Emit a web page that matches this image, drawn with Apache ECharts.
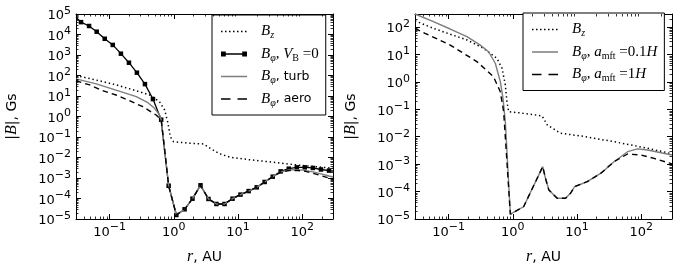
<!DOCTYPE html>
<html><head><meta charset="utf-8">
<script src="https://cdn.jsdelivr.net/npm/echarts@6/dist/echarts.min.js"></script>
<style>html,body{margin:0;padding:0;background:#fff}#c{width:681px;height:276px}</style>
</head><body><div id="c"></div>
<script>
// ---------- DATA ----------
// Left panel
const rBzL  = [0.03, 0.062, 0.126, 0.26, 0.42, 0.6, 0.72, 0.81, 0.88, 0.99, 1.8, 2.9, 3.3, 4.1, 5.0, 7.6, 16, 29, 84, 300];
const bBzL  = [100, 60, 35, 18, 11.2, 5.2, 2.07, 0.47, 0.104, 0.059, 0.049, 0.046, 0.035, 0.023, 0.0158, 0.0102, 0.0076, 0.0063, 0.0043, 0.0030];

const rVB0  = [0.03, 0.0359, 0.0479, 0.063, 0.084, 0.112, 0.15, 0.2, 0.266, 0.355, 0.473, 0.635, 0.83, 1.095, 1.47, 1.95, 2.6, 3.46, 4.6, 6.15, 8.2, 10.9, 14.6, 19.5, 25.9, 34.6, 46, 61.5, 82, 109, 146, 195, 260, 300];
const bVB0  = [70000, 40000, 26000, 13700, 6200, 3100, 1160, 421, 137, 38, 7.1, 0.7, 4.2e-4, 1.57e-5, 2.97e-5, 9.8e-5, 4.4e-4, 9.5e-5, 5.4e-5, 5.4e-5, 9.8e-5, 1.55e-4, 2.3e-4, 3.5e-4, 6.4e-4, 1.16e-3, 2.1e-3, 2.85e-3, 3.3e-3, 3.3e-3, 3.1e-3, 2.6e-3, 2.3e-3, 2.2e-3];

const rTurb = [0.03, 0.062, 0.126, 0.26, 0.395, 0.5, 0.6, 0.635, 0.83, 1.095, 1.47, 1.95, 2.6, 3.46, 4.6, 6.15, 8.2, 10.9, 14.6, 19.5, 25.9, 34.6, 46, 61.5, 82, 109, 146, 195, 260, 300];
const bTurb = [68, 39, 19.5, 9.3, 4.7, 2.5, 1.18, 0.7, 4.2e-4, 1.57e-5, 2.97e-5, 9.8e-5, 4.4e-4, 9.5e-5, 5.4e-5, 5.4e-5, 9.8e-5, 1.55e-4, 2.3e-4, 3.5e-4, 6.4e-4, 1.16e-3, 2.0e-3, 2.45e-3, 2.55e-3, 2.35e-3, 2.0e-3, 1.6e-3, 1.25e-3, 1.12e-3];

const rAero = [0.03, 0.049, 0.078, 0.126, 0.204, 0.33, 0.53, 0.635, 0.83, 1.095, 1.47, 1.95, 2.6, 3.46, 4.6, 6.15, 8.2, 10.9, 14.6, 19.5, 25.9, 34.6, 46, 61.5, 82, 109, 146, 195, 260, 300];
const bAero = [55, 34.7, 18.2, 11.2, 5.9, 3.0, 1.18, 0.7, 4.2e-4, 1.57e-5, 2.97e-5, 9.8e-5, 4.4e-4, 9.5e-5, 5.4e-5, 5.4e-5, 9.8e-5, 1.55e-4, 2.3e-4, 3.5e-4, 6.4e-4, 1.16e-3, 1.95e-3, 2.3e-3, 2.35e-3, 2.15e-3, 1.7e-3, 1.3e-3, 1.0e-3, 0.87e-3];

// Right panel
const rBzR  = [0.03, 0.058, 0.106, 0.193, 0.35, 0.566, 0.68, 0.764, 0.81, 0.86, 1.3, 2.0, 2.86, 3.43, 5.5, 11.4, 37.7, 125, 300];
const bBzR  = [170, 90, 55, 34, 16.8, 7.2, 3.1, 0.77, 0.19, 0.082, 0.074, 0.065, 0.057, 0.027, 0.0134, 0.0107, 0.0066, 0.0038, 0.0024];

const rA01  = [0.03, 0.058, 0.106, 0.193, 0.311, 0.419, 0.533, 0.638, 0.703, 0.764, 0.914, 1.47, 2.92, 3.22, 3.63, 4.9, 6.6, 7.9, 9.1, 14.4, 23.5, 37.6, 61, 87, 125, 300];
const bA01  = [300, 157, 85, 45, 22, 12.6, 4.8, 1.02, 0.25, 0.035, 1.5e-5, 2.8e-5, 8.1e-4, 3.05e-4, 1.15e-4, 5.7e-5, 5.7e-5, 8.7e-5, 1.5e-4, 2.3e-4, 4.7e-4, 1.23e-3, 2.85e-3, 3.6e-3, 3.3e-3, 2.15e-3];

const rA1   = [0.03, 0.043, 0.106, 0.276, 0.5, 0.638, 0.72, 0.914, 1.47, 2.92, 3.22, 3.63, 4.9, 6.6, 7.9, 9.1, 14.4, 23.5, 37.6, 61, 100, 158, 300];
const bA1   = [90, 59, 22, 5.5, 1.55, 0.44, 0.081, 1.5e-5, 2.8e-5, 8.1e-4, 3.05e-4, 1.15e-4, 5.7e-5, 5.7e-5, 8.7e-5, 1.5e-4, 2.3e-4, 4.7e-4, 1.23e-3, 2.35e-3, 2.15e-3, 1.62e-3, 1.02e-3];

// Axis ranges
const xRange  = [0.03, 300];
const yRangeL = [1e-5, 1e5];
const yRangeR = [1e-5, 300];

// Legend labels (rich text)
const legendLeft = {
  'Bz L':   '{I|B}{si|z}',
  'VB0 L':  '{I|B}{si|φ}{r|, }{i|V}{sr|B}{r| =0}',
  'turb L': '{I|B}{si|φ}{t|, turb}',
  'aero L': '{I|B}{si|φ}{t|, aero}'
};
const legendRight = {
  'Bz R':  '{I|B}{si|z}',
  'a01 R': '{I|B}{si|φ}{r|, }{i|a}{sr|mft}{r| =0.1}{i|H}',
  'a1 R':  '{I|B}{si|φ}{r|, }{i|a}{sr|mft}{r| =1}{i|H}'
};

// ---------- CHART ----------
const zip = (r, b) => r.map((x, i) => [x, b[i]]);
const SERIF = 'Liberation Serif', SANS = 'DejaVu Sans';
const GREY = '#7d7d7d';

const tickRich = {
  b: {fontFamily: SANS, fontSize: 13, color: '#000', verticalAlign: 'bottom', lineHeight: 17},
  s: {fontFamily: SANS, fontSize: 11, color: '#000', verticalAlign: 'top', lineHeight: 17}
};
function sup(v) {
  const l = Math.log10(v), e = Math.round(l);
  if (Math.abs(l - e) > 1e-6) return '';
  return '{b|10}{s|' + (e < 0 ? '\u2212' + (-e) : e) + '}';
}
const nameRich = {
  i: {fontFamily: SERIF, fontStyle: 'italic', fontSize: 16, color: '#000'},
  t: {fontFamily: SANS, fontSize: 14, color: '#000'}
};
const legRich = {
  I:  {fontFamily: SERIF, fontStyle: 'italic', fontSize: 15, lineHeight: 18, padding: [0, 0, 0, 9], color: '#000'},
  i:  {fontFamily: SERIF, fontStyle: 'italic', fontSize: 15, lineHeight: 18, color: '#000'},
  si: {fontFamily: SERIF, fontStyle: 'italic', fontSize: 10, lineHeight: 18, verticalAlign: 'bottom', color: '#000'},
  sr: {fontFamily: SERIF, fontSize: 10, lineHeight: 18, verticalAlign: 'bottom', color: '#000'},
  r:  {fontFamily: SERIF, fontSize: 15, lineHeight: 18, color: '#000'},
  t:  {fontFamily: SANS, fontSize: 12.5, lineHeight: 18, color: '#000'}
};

function xAx(g, pos, withLabel) {
  return {
    type: 'log', logBase: 10, gridIndex: g, position: pos, min: xRange[0], max: xRange[1], splitNumber: 5,
    axisLine: {show: true, onZero: false, lineStyle: {color: '#000', width: 1}},
    axisTick: {show: true, inside: true, length: 5, lineStyle: {color: '#000', width: 1}},
    minorTick: {show: false}, splitLine: {show: false},
    axisLabel: {show: withLabel, interval: 0, margin: 3, formatter: sup, rich: tickRich},
    name: withLabel ? '{i|r}{t|, AU}' : '', nameLocation: 'middle', nameGap: 30,
    nameTextStyle: {rich: nameRich}
  };
}
function yAx(g, pos, withLabel, range) {
  return {
    type: 'log', logBase: 10, gridIndex: g, position: pos, min: range[0], max: range[1], interval: 1,
    axisLine: {show: true, onZero: false, lineStyle: {color: '#000', width: 1}},
    axisTick: {show: true, inside: true, length: 5, lineStyle: {color: '#000', width: 1}},
    minorTick: {show: false}, splitLine: {show: false},
    axisLabel: {show: withLabel, interval: 0, margin: 5, formatter: sup, rich: tickRich},
    name: withLabel ? '{t||}{i|B}{t||, Gs}' : '', nameLocation: 'middle', nameGap: 56, nameRotate: 90,
    nameTextStyle: {rich: nameRich}
  };
}

function minorVals(lo, hi) {
  const out = [];
  for (let e = Math.floor(Math.log10(lo)); e <= Math.ceil(Math.log10(hi)); e++) {
    for (let m = 2; m <= 9; m++) {
      const v = m * Math.pow(10, e);
      if (v > lo * 1.0001 && v < hi * 0.9999) out.push(v);
    }
  }
  return out;
}
function minorTicks(xi, yi, yr) {
  const xs = minorVals(xRange[0], xRange[1]), ys = minorVals(yr[0], yr[1]);
  return {
    type: 'custom', xAxisIndex: xi, yAxisIndex: yi, silent: true, clip: false, z: 5,
    data: [[1, 1]],
    renderItem: function (params, api) {
      const cs = params.coordSys, L = 2.5, ch = [];
      const st = {stroke: '#000', lineWidth: 0.8};
      xs.forEach(v => {
        const px = Math.round(api.coord([v, yr[0]])[0]) + 0.5;
        ch.push({type: 'line', shape: {x1: px, y1: cs.y + cs.height, x2: px, y2: cs.y + cs.height - L}, style: st});
        ch.push({type: 'line', shape: {x1: px, y1: cs.y, x2: px, y2: cs.y + L}, style: st});
      });
      ys.forEach(v => {
        const py = Math.round(api.coord([xRange[0], v])[1]) + 0.5;
        ch.push({type: 'line', shape: {x1: cs.x, y1: py, x2: cs.x + L, y2: py}, style: st});
        ch.push({type: 'line', shape: {x1: cs.x + cs.width, y1: py, x2: cs.x + cs.width - L, y2: py}, style: st});
      });
      return {type: 'group', children: ch};
    }
  };
}

function lineSeries(name, xi, yi, data, color, width, type, z) {
  return {
    name, type: 'line', xAxisIndex: xi, yAxisIndex: yi, data, symbol: 'none', z,
    lineStyle: {color, width, type}, itemStyle: {color}, silent: true, animation: false
  };
}

const dotIcon = 'path://M0,0h0.01v0.01h-0.01Z M25.99,11.99h0.01v0.01h-0.01Z ' +
  [0, 4, 8, 12, 16, 20, 24].map(x => 'M' + x + ',5.3h1.5v1.5h-1.5Z').join(' ');
const solidIcon = 'path://M0,0h0.01v0.01h-0.01Z M25.99,11.99h0.01v0.01h-0.01Z M0,5.35h26v1.3h-26Z';
const dashIcon = 'path://M0,0h0.01v0.01h-0.01Z M25.99,11.99h0.01v0.01h-0.01Z M0,5.3h9.5v1.5h-9.5Z M16.5,5.3h9.5v1.5h-9.5Z';
const markIcon = 'path://M0,0h0.01v0.01h-0.01Z M25.99,11.99h0.01v0.01h-0.01Z M0,3.6h4.8v4.8h-4.8Z M21.2,3.6h4.8v4.8h-4.8Z M4,5.35h18v1.3h-18Z';

const vb0Data = rVB0.map((x, i) => {
  const it = {value: [x, bVB0[i]]};
  if (i === 0 || i === rVB0.length - 1) it.symbol = 'none';
  return it;
});

function legendCfg(left, top, map, icons) {
  return {
    left, top, orient: 'vertical', itemWidth: 26, itemHeight: 12, itemGap: 6,
    padding: [9, 7, 7, 9], borderColor: '#000', borderWidth: 1, borderRadius: 0,
    backgroundColor: '#fff', selectedMode: false,
    itemStyle: {borderWidth: 0},
    data: Object.keys(map).map((k, i) => ({name: k, icon: icons[i]})),
    formatter: n => map[n], textStyle: {rich: legRich}
  };
}

const option = {
  animation: false,
  grid: [
    {left: 76, top: 14, width: 257, height: 205},
    {left: 415, top: 14, width: 257, height: 205}
  ],
  xAxis: [xAx(0, 'bottom', true), xAx(0, 'top', false), xAx(1, 'bottom', true), xAx(1, 'top', false)],
  yAxis: [yAx(0, 'left', true, yRangeL), yAx(0, 'right', false, yRangeL),
          yAx(1, 'left', true, yRangeR), yAx(1, 'right', false, yRangeR)],
  legend: [
    legendCfg(212, 15, legendLeft, [dotIcon, markIcon, solidIcon, dashIcon]),
    legendCfg(523, 13, legendRight, [dotIcon, solidIcon, dashIcon])
  ],
  series: [
    lineSeries('Bz L', 0, 0, zip(rBzL, bBzL), '#000', 1.5, [1.4, 2.8], 2),
    Object.assign(lineSeries('VB0 L', 0, 0, vb0Data, '#000', 1.3, 'solid', 3),
      {symbol: 'rect', symbolSize: 4.5, showSymbol: true, showAllSymbol: true}),
    lineSeries('turb L', 0, 0, zip(rTurb, bTurb), GREY, 1.4, 'solid', 4),
    lineSeries('aero L', 0, 0, zip(rAero, bAero), '#000', 1.4, [5.5, 4], 5),
    lineSeries('Bz R', 2, 2, zip(rBzR, bBzR), '#000', 1.5, [1.4, 2.8], 2),
    lineSeries('a01 R', 2, 2, zip(rA01, bA01), GREY, 1.4, 'solid', 3),
    lineSeries('a1 R', 2, 2, zip(rA1, bA1), '#000', 1.4, [5.5, 4], 4),
    minorTicks(0, 0, yRangeL),
    minorTicks(2, 2, yRangeR)
  ]
};
const chart = echarts.init(document.getElementById('c'));
chart.setOption(option);
</script>
</body></html>
